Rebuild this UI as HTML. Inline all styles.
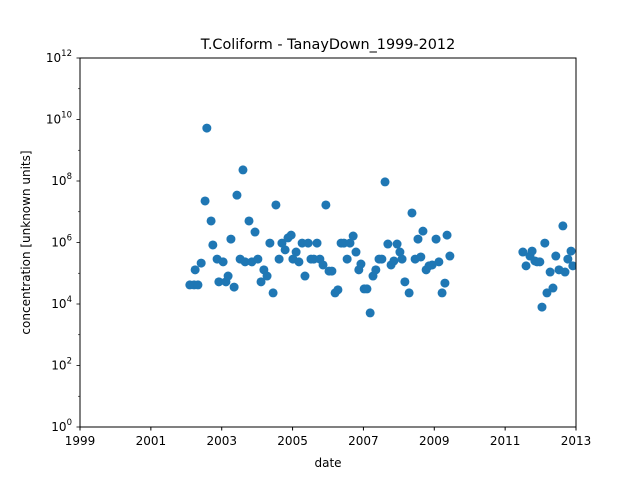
<!DOCTYPE html>
<html><head><meta charset="utf-8"><style>
body{margin:0;background:#fff;}
svg{display:block;font-family:"DejaVu Sans","Liberation Sans",sans-serif;}
</style></head><body>
<svg id="chart" width="640" height="480">
<rect width="640" height="480" fill="#fff"/>
<defs><clipPath id="clip"><rect x="80" y="58" width="496" height="369"/></clipPath></defs>
<text x="328" y="49" text-anchor="middle" font-size="14.4">T.Coliform - TanayDown_1999-2012</text>
<g id="marks" clip-path="url(#clip)"></g>
<rect x="80" y="58" width="496" height="369" fill="none" stroke="#000" stroke-width="1"/>
<g id="axes"></g>
<text x="328" y="467" text-anchor="middle" font-size="12">date</text>
<text transform="translate(30,242.5) rotate(-90)" text-anchor="middle" font-size="12">concentration [unknown units]</text>
</svg>
<script>
const years = [2002.10,2002.22,2002.33,2002.25,2002.42,2002.53,2002.58,2002.70,2002.75,2002.87,2002.92,2003.04,2003.12,2003.18,2003.26,2003.35,2003.43,2003.52,2003.60,2003.66,2003.77,2003.85,2003.94,2004.02,2004.11,2004.19,2004.28,2004.36,2004.45,2004.53,2004.62,2004.70,2004.79,2004.87,2004.96,2005.01,2005.10,2005.18,2005.27,2005.35,2005.44,2005.52,2005.60,2005.69,2005.77,2005.86,2005.94,2006.03,2006.11,2006.20,2006.28,2006.37,2006.45,2006.54,2006.62,2006.71,2006.79,2006.87,2006.93,2007.02,2007.10,2007.19,2007.27,2007.35,2007.44,2007.52,2007.61,2007.69,2007.78,2007.86,2007.95,2008.03,2008.09,2008.17,2008.29,2008.37,2008.46,2008.54,2008.62,2008.68,2008.77,2008.85,2008.94,2009.05,2009.13,2009.22,2009.30,2009.36,2009.44,
2011.50,2011.59,2011.70,2011.76,2011.84,2011.90,2011.98,2012.04,2012.12,2012.18,2012.27,2012.35,2012.43,2012.52,2012.63,2012.69,2012.77,2012.86,2012.91];
const logConc = [4.62,4.62,4.62,5.11,5.33,7.35,9.72,6.70,5.92,5.46,4.72,5.37,4.72,4.91,6.11,4.55,7.54,5.46,8.36,5.37,6.70,5.37,6.34,5.46,4.72,5.11,4.91,5.98,4.36,7.22,5.46,5.98,5.76,6.15,6.24,5.46,5.69,5.37,5.98,4.91,5.98,5.46,5.46,5.98,5.46,5.27,7.22,5.07,5.07,4.36,4.46,5.98,5.98,5.46,5.98,6.21,5.69,5.11,5.30,4.49,4.49,3.71,4.91,5.11,5.46,5.46,7.97,5.95,5.27,5.40,5.95,5.69,5.46,4.72,4.36,6.96,5.46,6.11,5.53,6.37,5.11,5.24,5.27,6.11,5.37,4.36,4.68,6.24,5.56,
5.69,5.24,5.56,5.72,5.40,5.37,5.37,3.90,5.98,4.36,5.04,4.52,5.56,5.11,6.54,5.04,5.46,5.72,5.24];
const xTickLabels = ["1999","2001","2003","2005","2007","2009","2011","2013"];
const yTickExps = [0,2,4,6,8,10,12];
const NS="http://www.w3.org/2000/svg";
const X0=80,X1=576,Y0=427,Y1=58;
function xs(yr){return X0+(yr-1999)/(2013-1999)*(X1-X0);}
function ys(l){return Y0-(l-0)/(12-0)*(Y0-Y1);}
const marks=document.getElementById('marks');
for(let i=0;i<years.length;i++){
  const c=document.createElementNS(NS,'circle');
  c.setAttribute('cx',xs(years[i]));c.setAttribute('cy',ys(logConc[i]));c.setAttribute('r',4.5);c.setAttribute('fill','#1f77b4');
  
  
  marks.appendChild(c);
}
const axes=document.getElementById('axes');
for(const t of xTickLabels){
  const x=xs(+t);
  const l=document.createElementNS(NS,'line');
  l.setAttribute('x1',x);l.setAttribute('x2',x);l.setAttribute('y1',427);l.setAttribute('y2',430.5);l.setAttribute('stroke','#000');
  
  
  axes.appendChild(l);
  const tx=document.createElementNS(NS,'text');
  tx.setAttribute('x',x);tx.setAttribute('y',445);tx.setAttribute('text-anchor','middle');tx.setAttribute('font-size','12');
  tx.textContent=t;
  
  
  axes.appendChild(tx);
}
for(let e=0;e<=12;e++){
  const y=ys(e);
  const major=yTickExps.includes(e);
  const l=document.createElementNS(NS,'line');
  l.setAttribute('x1',major?76.5:78);l.setAttribute('x2',80);l.setAttribute('y1',y);l.setAttribute('y2',y);l.setAttribute('stroke','#000');l.setAttribute('stroke-width',major?0.8:0.6);
  
  
  axes.appendChild(l);
}
for(const e of yTickExps){
  const y=ys(e);
  const tx=document.createElementNS(NS,'text');
  tx.setAttribute('x',72);tx.setAttribute('y',y+4);tx.setAttribute('text-anchor','end');tx.setAttribute('font-size','12');
  tx.innerHTML='10<tspan dy="-6" font-size="8.5">'+e+'</tspan>';
  
  
  axes.appendChild(tx);
}
</script>
</body></html>
